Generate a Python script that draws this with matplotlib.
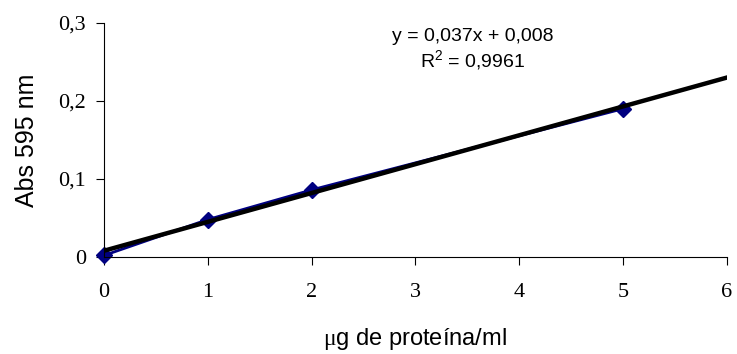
import matplotlib
matplotlib.use('Agg')
from matplotlib import pyplot as plt
import numpy as np

plt.rcParams['mathtext.fontset'] = 'custom'
plt.rcParams['mathtext.rm'] = 'Liberation Serif'
plt.rcParams['mathtext.sf'] = 'Liberation Sans'

# dados da curva padrão (Bradford)
conc = [0, 1, 2, 5]
absorb = [0.002, 0.048, 0.086, 0.19]
slope = 0.037
intercept = 0.008
x_ticks = [0, 1, 2, 3, 4, 5, 6]
y_ticks = [0, 0.1, 0.2, 0.3]
y_labels = ['0', '0,1', '0,2', '0,3']

fig = plt.figure(figsize=(7.37, 3.54), dpi=100)
ax = fig.add_axes([0.141, 0.274, 0.845, 0.661])

ax.plot(conc, absorb, color='#000080', marker='D', markersize=8, linewidth=2,
        zorder=2, clip_on=False)

xt = np.array([0, 6])
ax.plot(xt, slope * xt + intercept, color='black', linewidth=3.2, zorder=3)

ax.set_xlim(0, 6)
ax.set_ylim(0, 0.3)
ax.set_xticks(x_ticks)
ax.set_xticklabels([str(t) for t in x_ticks], fontfamily='Liberation Serif', fontsize=16)
ax.set_yticks(y_ticks)
ax.set_yticklabels(y_labels, fontfamily='Liberation Serif', fontsize=16)
ax.tick_params(direction='out', length=6, width=0.8)
ax.tick_params(axis='x', pad=13)
ax.tick_params(axis='y', pad=7)

for s in ['top', 'right']:
    ax.spines[s].set_visible(False)
for s in ['left', 'bottom']:
    ax.spines[s].set_linewidth(0.8)

ax.set_xlabel('$\\mathrm{\\mu}$g de proteína/ml', fontfamily='Liberation Sans', fontsize=17, labelpad=17)
ax.set_ylabel('Abs 595 nm', fontfamily='Liberation Sans', fontsize=18, labelpad=14)

ax.text(3.55, 0.283, 'y = 0,037x + 0,008', fontfamily='Liberation Sans', fontsize=14,
        ha='center', va='center')
ax.text(3.55, 0.252, 'R$^{\\mathsf{2}}$ = 0,9961', fontfamily='Liberation Sans', fontsize=14,
        ha='center', va='center')

plt.savefig('out.png', dpi=100)
